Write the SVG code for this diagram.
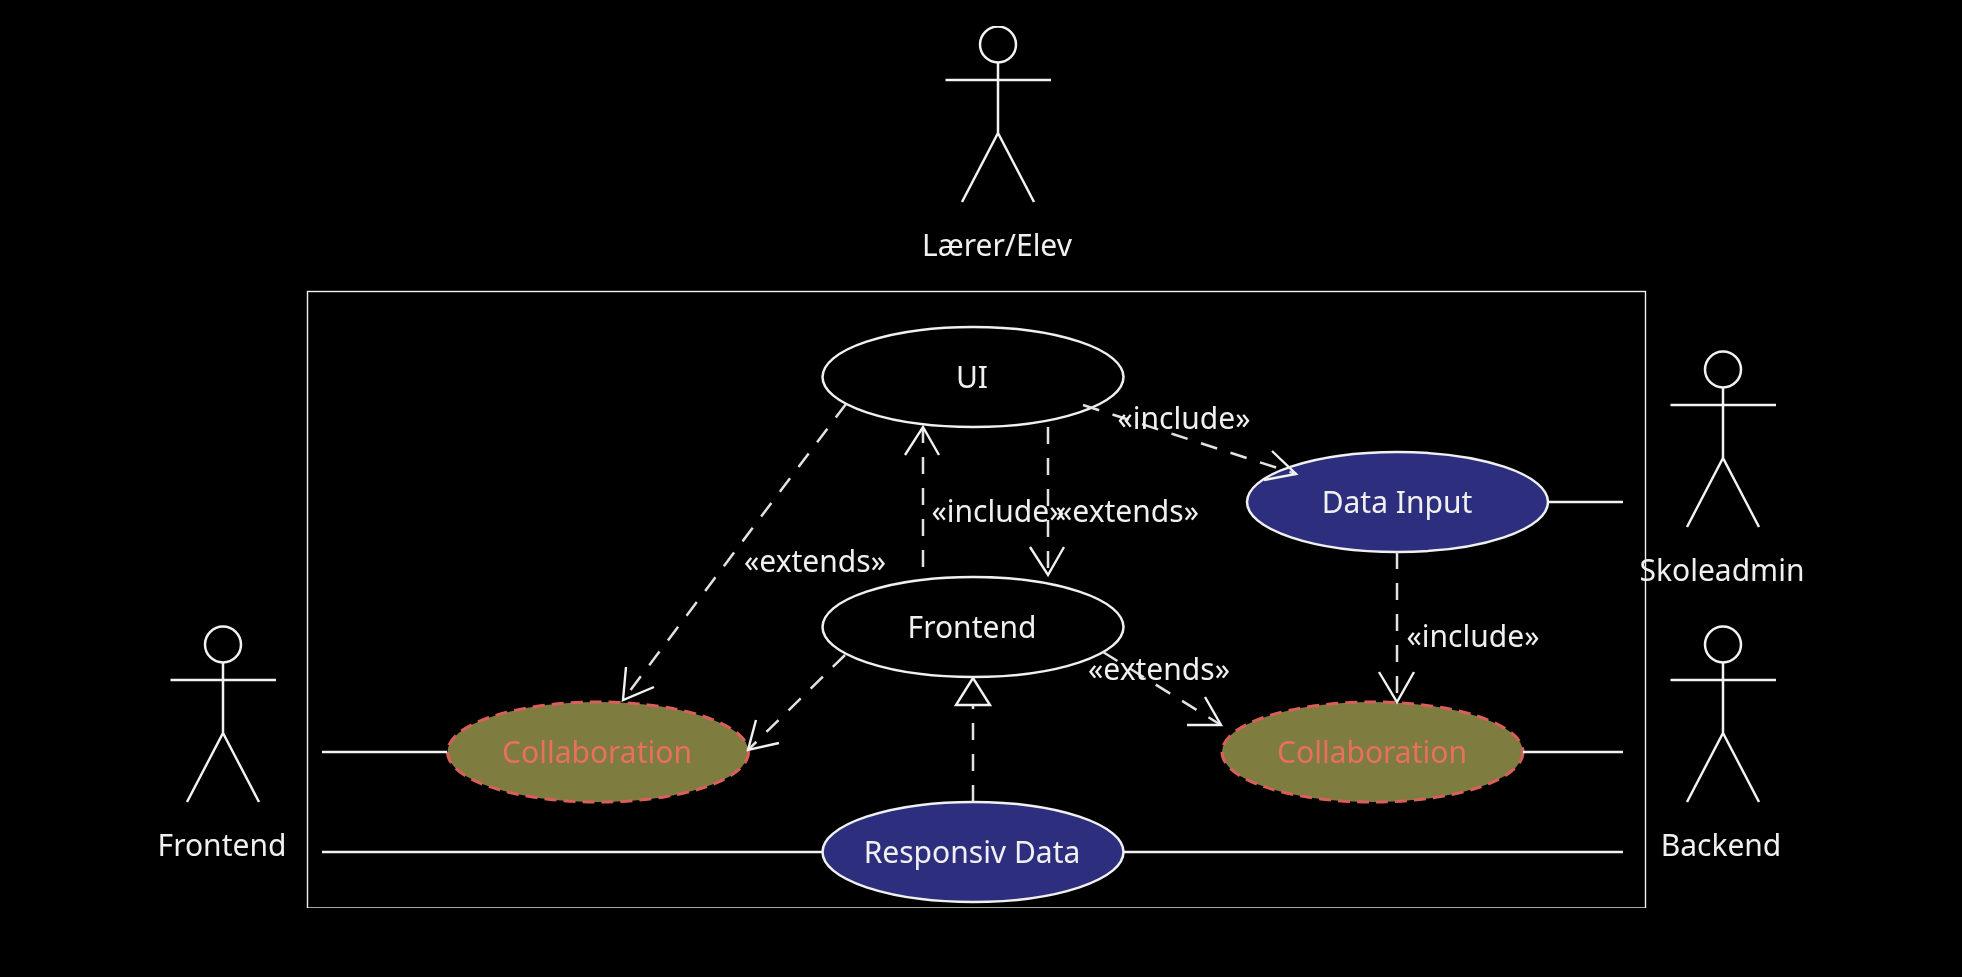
<svg xmlns="http://www.w3.org/2000/svg" width="1962" height="977" viewBox="0 0 1962 977">
<style>
.ln{fill:none;stroke:#f2f2f2;stroke-width:2.5}
.dash{fill:none;stroke:#e2e2e2;stroke-width:2.5;stroke-dasharray:17 14}
.head{fill:none;stroke:#f2f2f2;stroke-width:2.4}
.uc{fill:#000;stroke:#f0f0f0;stroke-width:2.5}
.blue{fill:#2f2f7e;stroke:#f0f0f0;stroke-width:2.5}
.col{fill:#7f7b3f;stroke:#d9605a;stroke-width:3;stroke-dasharray:12 7}
text{font-family:"Noto Sans","Open Sans",sans-serif;font-size:30px;fill:#f0f0f0;text-anchor:middle;dominant-baseline:central}
.ct{fill:#e8705e}
.frame{fill:none;stroke:#f0f0f0;stroke-width:1.4}
</style>
<defs>
<filter id="soft" x="0" y="0" width="100%" height="100%"><feGaussianBlur stdDeviation="0.6"/></filter>
<g id="stick">
<circle cx="0" cy="44.500" r="18" class="ln"/>
<path class="ln" d="M0 62.500V133M-52.500 80H53M0 133L-36 202M0 133L36 202"/>
</g>
</defs>
<rect width="1962" height="977" fill="#000"/>
<g filter="url(#soft)">
<rect id="boundary" class="frame" x="307.500" y="291.500" width="1338" height="616.500"/>
<g id="actor-laerer"><use href="#stick" x="998" y="0"/><text x="997" y="244">Lærer/Elev</text></g>
<g id="actor-skoleadmin"><use href="#stick" x="1723" y="325"/><text x="1722" y="569">Skoleadmin</text></g>
<g id="actor-backend"><use href="#stick" x="1723" y="600"/><text x="1721" y="844">Backend</text></g>
<g id="actor-frontend"><use href="#stick" x="223" y="600"/><text x="222" y="844">Frontend</text></g>
<g id="uc-ui"><ellipse class="uc" cx="973" cy="377" rx="150.500" ry="50"/><text x="972" y="376">UI</text></g>
<g id="uc-frontend"><ellipse class="uc" cx="973" cy="627" rx="150.500" ry="50"/><text x="972" y="626">Frontend</text></g>
<g id="uc-datainput"><ellipse class="blue" cx="1397.500" cy="502" rx="150.500" ry="50"/><text x="1397" y="501">Data Input</text></g>
<g id="uc-collab-left"><ellipse class="col" cx="598" cy="752" rx="150.500" ry="50"/><text class="ct" x="597" y="751">Collaboration</text></g>
<g id="uc-collab-right"><ellipse class="col" cx="1372.500" cy="752" rx="150.500" ry="50"/><text class="ct" x="1372" y="751">Collaboration</text></g>
<g id="uc-responsiv"><ellipse class="blue" cx="973" cy="852" rx="150.500" ry="50"/><text x="972" y="851">Responsiv Data</text></g>
<g id="connectors">
<path class="ln" d="M322 752H447M322 852H822M1124 852H1623M1523 752H1623M1548 502H1623"/>
<path class="dash" d="M1048 427V575"/>
<path class="head" d="M1030 547L1048 575L1064 547"/>
<path class="dash" d="M923 567V428"/>
<path class="head" d="M905 455L923 427L939 455"/>
<path class="dash" d="M1083 405L1296 474"/>
<path class="head" d="M1272 451L1296 474L1264 480"/>
<path class="dash" d="M846 404L623 700"/>
<path class="head" d="M626 667L623 700L654 687"/>
<path class="dash" d="M845 655L748 750"/>
<path class="head" d="M756 720L748 750L779 743"/>
<path class="dash" d="M973 802V706"/>
<path class="head" d="M973 678L956 705H990Z"/>
<path class="dash" d="M1103 652L1221 725"/>
<path class="head" d="M1205 697L1221 725H1187"/>
<path class="dash" d="M1397 552V702"/>
<path class="head" d="M1379 672L1397 702L1414 672"/>
</g>
<g id="labels">
<text x="1184" y="417">«include»</text>
<text x="998" y="510">«include»</text>
<text x="1128" y="510">«extends»</text>
<text x="815" y="560">«extends»</text>
<text x="1473" y="635">«include»</text>
<text x="1159" y="668">«extends»</text>
</g>
</g>
</svg>
